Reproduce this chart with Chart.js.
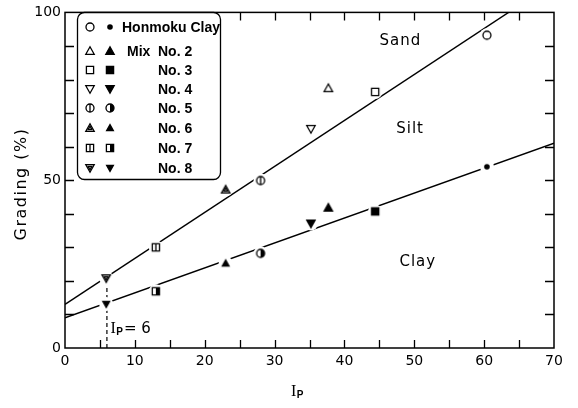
<!DOCTYPE html>
<html>
<head>
<meta charset="utf-8">
<script src="https://cdn.jsdelivr.net/npm/chart.js@4.4.1/dist/chart.umd.min.js"></script>
<style>
  html, body { margin: 0; padding: 0; background: #fff; }
  #wrap { width: 578px; height: 408px; }
</style>
</head>
<body>
<div id="wrap"><canvas id="grading-chart" width="578" height="408"></canvas></div>
<script>
// --- data ---
const mixNames = ['Honmoku Clay', 'No. 2', 'No. 3', 'No. 4', 'No. 5', 'No. 6', 'No. 7', 'No. 8'];
const plasticityIndex = [60.4, 37.7, 44.4, 35.2, 28.0, 23.0, 13.0, 5.9];
const finesPct = [93.2, 77.4, 76.3, 65.3, 49.9, 47.2, 30.0, 20.8];   // open symbols (silt + clay)
const clayPct = [54.0, 41.8, 40.7, 37.1, 28.2, 25.2, 16.9, 13.1];    // filled symbols

const sandSiltLineIp = [0, 63.5];
const sandSiltLinePct = [13, 100];
const siltClayLineIp = [0, 70];
const siltClayLinePct = [9, 61];
const cutoffIp = [6, 6];
const cutoffPct = [0, 20.8];

const regionNames = ['Sand', 'Silt', 'Clay'];
const regionIp = [48.0, 49.4, 50.5];
const regionPct = [91.4, 65.3, 25.5];

const xTickStep = 5, xLabelStep = 10;
const yTickStep = 10, yLabelStep = 50;

const symbolShapes = ['circle', 'triUp', 'square', 'triDown', 'circleBar', 'triBar', 'squareBar', 'downBar'];

// --- little symbol images used as point styles ---
function trianglePath(g, s, down) {
    const d = down ? -1 : 1;
    g.beginPath();
    g.moveTo(0, -4.2 * d * s);
    g.lineTo(4.2 * s, 3.3 * d * s);
    g.lineTo(-4.2 * s, 3.3 * d * s);
    g.closePath();
}

function makeSymbol(shape, filled) {
    const c = document.createElement('canvas');
    c.width = 18; c.height = 18;
    const g = c.getContext('2d');
    g.translate(9, 9);
    g.lineWidth = 1.3;
    g.strokeStyle = '#000';
    g.fillStyle = '#000';
    const openFill = () => { g.fillStyle = '#fff'; g.fill(); g.fillStyle = '#000'; g.stroke(); };

    if (shape === 'circle') {
        g.beginPath();
        if (filled) { g.arc(0, 0, 2.8, 0, Math.PI * 2); g.fill(); }
        else { g.arc(0, 0, 4, 0, Math.PI * 2); openFill(); }
    } else if (shape === 'triUp' || shape === 'triDown') {
        trianglePath(g, 1, shape === 'triDown');
        if (filled) { g.fill(); g.stroke(); } else openFill();
    } else if (shape === 'square') {
        g.beginPath();
        g.rect(-3.6, -3.6, 7.2, 7.2);
        if (filled) { g.fill(); g.stroke(); } else openFill();
    } else if (shape === 'circleBar') {
        g.beginPath();
        g.arc(0, 0, 4, 0, Math.PI * 2);
        openFill();
        g.beginPath();
        if (filled) { g.arc(0, 0, 4, -Math.PI / 2, Math.PI / 2); g.closePath(); g.fill(); }
        else { g.moveTo(0, -4); g.lineTo(0, 4); g.stroke(); }
    } else if (shape === 'squareBar') {
        g.beginPath();
        g.rect(-3.6, -3.6, 7.2, 7.2);
        openFill();
        if (filled) { g.fillRect(0, -3.6, 3.6, 7.2); }
        else { g.beginPath(); g.moveTo(0, -3.6); g.lineTo(0, 3.6); g.stroke(); }
    } else if (shape === 'triBar' || shape === 'downBar') {
        const down = shape === 'downBar';
        if (filled) {
            trianglePath(g, 0.8, down);
            g.fill(); g.stroke();
        } else {
            trianglePath(g, 1, down);
            openFill();
            trianglePath(g, 0.45, down);
            g.stroke();
        }
    }
    return c;
}

const openSymbols = symbolShapes.map(s => makeSymbol(s, false));
const filledSymbols = symbolShapes.map(s => makeSymbol(s, true));

const toPoints = (xs, ys) => xs.map((x, i) => ({ x: x, y: ys[i] }));

// --- drawing helpers in a plugin: frame, inward ticks, labels, legend ---
const FONT = '"DejaVu Sans", sans-serif';

function drawIp(ctx, x, y, size) {
    ctx.textBaseline = 'middle';
    ctx.textAlign = 'left';
    ctx.font = size + 'px "Liberation Serif", serif';
    ctx.fillText('I', x, y);
    const w = ctx.measureText('I').width;
    ctx.font = 'bold ' + Math.round(size * 0.6) + 'px "Liberation Sans", sans-serif';
    ctx.fillText('P', x + w + 0.5, y + size * 0.22);
    return w + 0.5 + ctx.measureText('P').width;
}

const figurePlugin = {
    id: 'figure',
    afterDatasetsDraw(chart) {
        const { ctx, chartArea: a, scales: { x, y } } = chart;
        ctx.save();
        ctx.strokeStyle = '#000';
        ctx.fillStyle = '#000';

        // frame
        ctx.lineWidth = 1.5;
        ctx.strokeRect(a.left, a.top, a.right - a.left, a.bottom - a.top);

        // inward ticks on all four sides
        ctx.lineWidth = 1.3;
        ctx.beginPath();
        x.ticks.forEach(t => {
            if (t.value <= x.min || t.value >= x.max) return;
            const px = Math.round(x.getPixelForValue(t.value)) + 0.5;
            ctx.moveTo(px, a.bottom); ctx.lineTo(px, a.bottom - 8);
            ctx.moveTo(px, a.top); ctx.lineTo(px, a.top + 8);
        });
        y.ticks.forEach(t => {
            if (t.value <= y.min || t.value >= y.max) return;
            const py = Math.round(y.getPixelForValue(t.value)) + 0.5;
            ctx.moveTo(a.left, py); ctx.lineTo(a.left + 9, py);
            ctx.moveTo(a.right, py); ctx.lineTo(a.right - 9, py);
        });
        ctx.stroke();

        // region names
        ctx.font = '15px ' + FONT;
        ctx.textAlign = 'center';
        ctx.textBaseline = 'middle';
        ctx.letterSpacing = '1px';
        regionNames.forEach((n, i) => {
            ctx.fillText(n, x.getPixelForValue(regionIp[i]), y.getPixelForValue(regionPct[i]));
        });
        ctx.letterSpacing = '0px';

        // Ip = 6 note
        const nx = x.getPixelForValue(6.5), ny = y.getPixelForValue(5.7);
        const w = drawIp(ctx, nx, ny, 16);
        ctx.font = '15px ' + FONT;
        ctx.textAlign = 'left';
        ctx.fillText('= 6', nx + w + 1, ny);

        // axis titles
        drawIp(ctx, 291, 392, 16);
        ctx.save();
        ctx.translate(22, 184);
        ctx.rotate(-Math.PI / 2);
        ctx.font = '16px ' + FONT;
        ctx.letterSpacing = '1.5px';
        ctx.textAlign = 'center';
        ctx.textBaseline = 'middle';
        ctx.fillText('Grading (%)', 0, 0);
        ctx.restore();

        // legend box
        ctx.lineWidth = 1.3;
        ctx.beginPath();
        ctx.roundRect(77.5, 12.5, 143, 167, 7);
        ctx.fillStyle = '#fff';
        ctx.fill();
        ctx.stroke();
        ctx.fillStyle = '#000';
        const rowY = [27, 51, 70, 89, 108, 128, 148, 168];
        ctx.font = 'bold 14px "Liberation Sans", sans-serif';
        ctx.textAlign = 'left';
        ctx.textBaseline = 'middle';
        mixNames.forEach((name, i) => {
            ctx.drawImage(openSymbols[i], 90 - 9, rowY[i] - 9);
            ctx.drawImage(filledSymbols[i], 110 - 9, rowY[i] - 9);
            if (i === 0) {
                ctx.fillText(name, 122, rowY[i] + 1);
            } else {
                if (i === 1) ctx.fillText('Mix', 127, rowY[i] + 1);
                ctx.fillText(name, 158, rowY[i] + 1);
            }
        });
        ctx.restore();
    }
};

const lineStyle = {
    showLine: true,
    borderColor: '#000',
    borderWidth: 1.4,
    pointRadius: 0,
    fill: false,
    order: 5
};

new Chart(document.getElementById('grading-chart'), {
    type: 'scatter',
    data: {
        datasets: [
            Object.assign({ label: 'Sand / Silt', data: toPoints(sandSiltLineIp, sandSiltLinePct) }, lineStyle),
            Object.assign({ label: 'Silt / Clay', data: toPoints(siltClayLineIp, siltClayLinePct) }, lineStyle),
            Object.assign({ label: 'Ip = 6', data: toPoints(cutoffIp, cutoffPct), borderDash: [4, 3] }, lineStyle, { borderWidth: 1.2 }),
            {
                // white gaps in the lines around each symbol
                label: 'gap',
                data: toPoints(plasticityIndex, finesPct).concat(toPoints(plasticityIndex, clayPct)),
                pointRadius: 7,
                pointBackgroundColor: '#fff',
                pointBorderWidth: 0,
                order: 3
            },
            {
                label: 'Fines',
                data: toPoints(plasticityIndex, finesPct),
                pointStyle: openSymbols,
                pointRadius: 5,
                order: 1
            },
            {
                label: 'Clay',
                data: toPoints(plasticityIndex, clayPct),
                pointStyle: filledSymbols,
                pointRadius: 5,
                order: 1
            }
        ]
    },
    options: {
        responsive: false,
        animation: false,
        events: [],
        layout: { padding: { top: 10, right: 24, left: 0, bottom: 0 } },
        plugins: {
            legend: { display: false },
            tooltip: { enabled: false }
        },
        scales: {
            x: {
                type: 'linear',
                min: 0,
                max: 70,
                grid: { display: false, drawTicks: false },
                border: { display: false },
                afterFit: s => { s.height = 60; },
                ticks: {
                    stepSize: xTickStep,
                    autoSkip: false,
                    maxRotation: 0,
                    padding: 5,
                    color: '#000',
                    font: { family: 'DejaVu Sans', size: 14 },
                    callback: v => (v % xLabelStep === 0 ? v : '')
                }
            },
            y: {
                type: 'linear',
                min: 0,
                max: 100,
                grid: { display: false, drawTicks: false },
                border: { display: false },
                afterFit: s => { s.width = 65; },
                ticks: {
                    stepSize: yTickStep,
                    autoSkip: false,
                    padding: 4,
                    color: '#000',
                    font: { family: 'DejaVu Sans', size: 14 },
                    callback: v => (v % yLabelStep === 0 ? v : '')
                }
            }
        }
    },
    plugins: [figurePlugin]
});
</script>
</body>
</html>
